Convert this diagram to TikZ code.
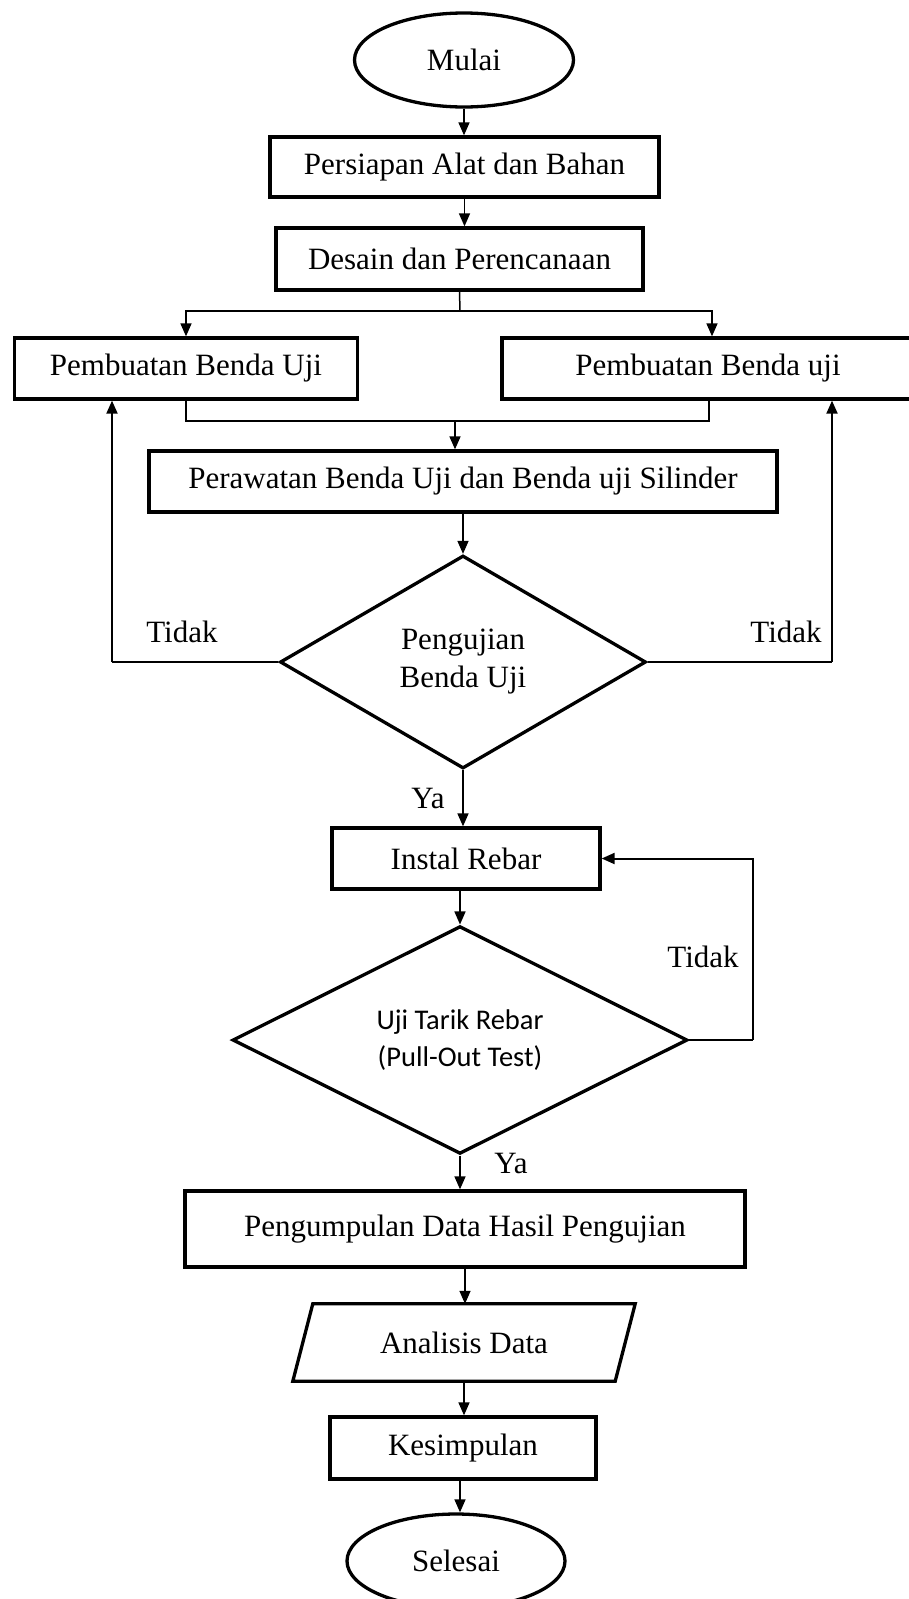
\documentclass[tikz,border=0pt]{standalone}
\usepackage{fontspec}
\setmainfont{Liberation Serif}
\newfontfamily\calibrifont{Carlito}
\usetikzlibrary{shapes.geometric,arrows.meta}
\begin{document}
\begin{tikzpicture}[x=1pt,y=-1pt,
  font=\fontsize{31}{38}\selectfont,
  boxnode/.style={draw,rectangle,line width=3.3pt,inner sep=0pt},
  termnode/.style={draw,ellipse,line width=3.3pt,inner sep=0pt},
  decnode/.style={draw,diamond,line width=3.3pt,inner sep=0pt,align=center},
  conn/.style={line width=1.5pt,-{Triangle[length=13pt,width=11pt]}},
  plainconn/.style={line width=1.5pt},
  fbline/.style={line width=2pt},
  fbconn/.style={line width=2pt,-{Triangle[length=13pt,width=11pt]}},
  lbl/.style={inner sep=0pt}]
\fill[white] (0,0) rectangle (908,1599);
\useasboundingbox (0,0) rectangle (908,1599);

% nodes
\node[termnode,minimum width=219pt,minimum height=94pt] (mulai) at (464,60) {Mulai};
\node[boxnode,minimum width=389pt,minimum height=60pt] (persiapan) at (464.5,167) {Persiapan Alat dan Bahan};
\node[boxnode,minimum width=367pt,minimum height=62pt] (desain) at (459.5,259) {Desain dan Perencanaan};
\node[boxnode,minimum width=343pt,minimum height=61pt] (pb1) at (186,368.5) {Pembuatan Benda Uji};
\node[boxnode,minimum width=420pt,minimum height=61pt] (pb2) at (712,368.5) {};
\node[lbl] (pb2t) at (708,368.5) {Pembuatan Benda uji};
\node[boxnode,minimum width=628pt,minimum height=61pt] (per) at (463,481.5) {Perawatan Benda Uji dan Benda uji Silinder};
\node[decnode,minimum width=366pt,minimum height=213pt] (d1) at (463,662) {Pengujian\\Benda Uji};
\node[boxnode,minimum width=268pt,minimum height=61pt] (instal) at (466,858.5) {Instal Rebar};
\node[decnode,minimum width=455pt,minimum height=226pt,font=\calibrifont\fontsize{28.5}{37}\selectfont] (d2) at (460,1040) {Uji Tarik Rebar\\(Pull-Out Test)};
\node[boxnode,minimum width=560pt,minimum height=76pt] (pg) at (465,1229) {Pengumpulan Data Hasil Pengujian};
\node[inner sep=0pt,minimum width=322pt,minimum height=77pt] (an) at (464,1342.5) {Analisis Data};
\draw[line width=3.3pt,line join=miter] ([xshift=10pt]an.north west) -- ([xshift=10pt]an.north east) -- ([xshift=-10pt]an.south east) -- ([xshift=-10pt]an.south west) -- cycle;
\node[boxnode,minimum width=266pt,minimum height=62pt] (kes) at (463,1448) {Kesimpulan};
\node[termnode,minimum width=218pt,minimum height=94pt] (sel) at (456,1561) {Selesai};

% labels
\node[lbl] (t1) at (182,632) {Tidak};
\node[lbl] (t2) at (786,632) {Tidak};
\node[lbl] (y1) at (428,798) {Ya};
\node[lbl] (t3) at (703,957) {Tidak};
\node[lbl] (y2) at (511,1163) {Ya};

% coordinates
\coordinate (split) at (460,311);
\coordinate (merge) at (455,421);
\coordinate (fl) at (112,662);
\coordinate (fr) at (832,662);
\coordinate (lr) at (753,1040);

% connectors
\draw[conn] (mulai.south) -- (mulai.south |- persiapan.north);
\draw[conn] (persiapan.south) -- (persiapan.south |- desain.north);
\draw[plainconn] (desain.south) -- (split);
\draw[conn] (split) -| (pb1.north);
\draw[conn] (split) -| (pb2.north);
\draw[plainconn] (pb1.south) |- (merge);
\draw[plainconn] ([xshift=-3pt]pb2.south) |- (merge);
\draw[conn] (merge) -- (merge |- per.north);
\draw[conn] (d1.north |- per.south) -- (d1.north);
\draw[fbline] (d1.west) -- (fl);
\draw[fbconn] (fl) -- (fl |- pb1.south);
\draw[fbline] (d1.east) -- (fr);
\draw[fbconn] (fr) -- (fr |- pb2.south);
\draw[conn] (d1.south) -- (d1.south |- instal.north);
\draw[conn] (d2.north |- instal.south) -- (d2.north);
\draw[fbline] (d2.east) -- (lr);
\draw[fbconn] (lr) |- (instal.east);
\draw[conn] (d2.south) -- (d2.south |- pg.north);
\draw[conn] (pg.south) -- (pg.south |- an.north);
\draw[conn] (an.south) -- (an.south |- kes.north);
\draw[conn] ([xshift=-3pt]kes.south) -- ([xshift=-3pt]kes.south |- sel.north);
\end{tikzpicture}
\end{document}
